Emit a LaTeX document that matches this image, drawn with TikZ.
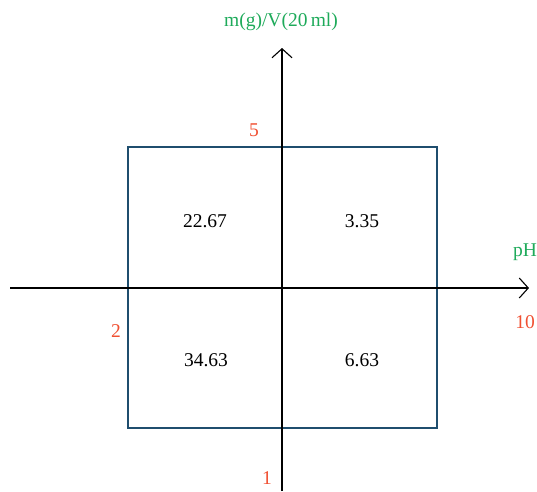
\documentclass[tikz,border=0pt]{standalone}
\usepackage{fontspec}
\setmainfont{Liberation Serif}
\usetikzlibrary{arrows.meta}
\definecolor{boxblue}{RGB}{31,78,110}
\definecolor{lblgreen}{RGB}{30,170,90}
\definecolor{lblred}{RGB}{240,80,50}
\begin{document}
\begin{tikzpicture}[x=1pt,y=-1pt,
  axis/.style={line width=1.1pt,-{Straight Barb[length=9pt,width=20pt,line width=1.1pt]}},
  valtxt/.style={font=\fontsize{19.5}{22}\selectfont,text=black},
  greentxt/.style={font=\fontsize{19.5}{22}\selectfont,text=lblgreen},
  redtxt/.style={font=\fontsize{19.5}{22}\selectfont,text=lblred},
  quad/.style={draw=boxblue,line width=1.1pt,minimum width=309pt,minimum height=281pt,inner sep=0pt}]
\useasboundingbox (0,0) rectangle (537,491);
\node[quad] (box) at (282.5,287.5) {};
\coordinate (xl) at (10,288);
\coordinate (xr) at (529,288);
\coordinate (yb) at (282,491);
\coordinate (yt) at (282,48);
\draw[axis] (xl) -- (xr);
\draw[axis] (yb) -- (yt);
\node[greentxt] (ylab) at (281,22) {m(g)/V(20\,ml)};
\node[greentxt] (xlab) at (525,252) {pH};
\node[redtxt] (x10) at (525,322) {10};
\node[redtxt] (y5) at (254,130) {5};
\node[redtxt] (x2) at (116,331) {2};
\node[redtxt] (y1) at (267,478) {1};
\node[valtxt] (q1) at (205,221) {22.67};
\node[valtxt] (q2) at (362,221) {3.35};
\node[valtxt] (q3) at (206,360) {34.63};
\node[valtxt] (q4) at (362,360) {6.63};
\end{tikzpicture}
\end{document}
